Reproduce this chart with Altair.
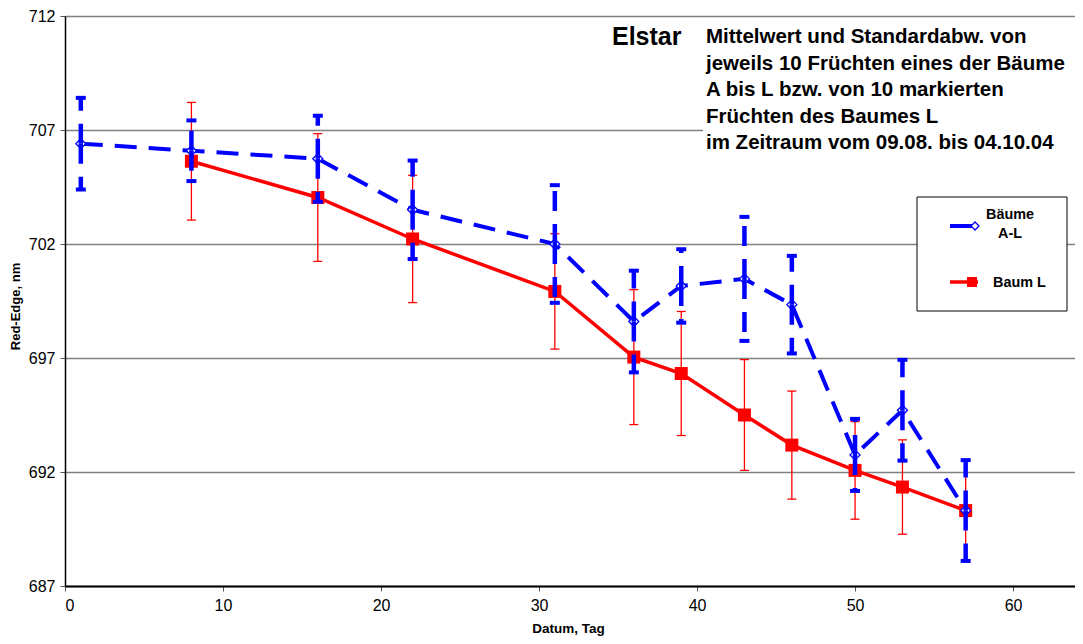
import altair as alt
import pandas as pd

# ---- data ----
days_a = [1, 8, 16, 22, 31, 36, 39, 43, 46, 50, 53, 57]
mean_a = [706.40, 706.09, 705.74, 703.50, 702.00, 698.60, 700.16, 700.47, 699.34, 692.75, 694.71, 690.31]
sd_a = [2.01, 1.33, 1.89, 2.16, 2.58, 2.23, 1.61, 2.72, 2.14, 1.58, 2.21, 2.21]

days_l = [8, 16, 22, 31, 36, 39, 43, 46, 50, 53, 57]
mean_l = [705.63, 704.04, 702.22, 699.92, 697.04, 696.32, 694.50, 693.18, 692.07, 691.34, 690.31]
sd_l = [2.58, 2.80, 2.79, 2.53, 2.96, 2.72, 2.43, 2.37, 2.14, 2.07, 2.21]

y_ticks = [687, 692, 697, 702, 707, 712]
x_ticks = [0, 10, 20, 30, 40, 50, 60]

legend_a = ["Bäume", "A-L"]
legend_l = "Baum L"
title_lines = [
    "Mittelwert und Standardabw. von",
    "jeweils 10 Früchten eines der Bäume",
    "A bis L bzw. von 10 markierten",
    "Früchten des Baumes L",
    "im Zeitraum vom 09.08. bis 04.10.04",
]
variety = "Elstar"

df_a = pd.DataFrame({"day": days_a, "mean": mean_a, "sd": sd_a})
df_a["hi"] = df_a["mean"] + df_a["sd"]
df_a["lo"] = df_a["mean"] - df_a["sd"]
df_l = pd.DataFrame({"day": days_l, "mean": mean_l, "sd": sd_l})
df_l["hi"] = df_l["mean"] + df_l["sd"]
df_l["lo"] = df_l["mean"] - df_l["sd"]
one = pd.DataFrame({"k": [0]})

W, H = 1010, 570
X_MAX = 63.92
TOP = 8  # plot area top (svg coords); image y = TOP + 8
TICK_FONT = "Liberation Sans Narrow, Arial Narrow, Liberation Sans"
BOLD_FONT = "Liberation Sans, Arial"
BLUE = "#0000FF"
RED = "#FF0000"

xs = alt.Scale(domain=[0, X_MAX], nice=False, zero=False)
ys = alt.Scale(domain=[687, 712], nice=False, zero=False)

x_axis = alt.Axis(values=x_ticks, title="Datum, Tag", grid=False,
                  domainColor="black", domainWidth=2, tickColor="#555", tickSize=5,
                  labelFont=TICK_FONT, labelFontSize=16, labelPadding=6, labelColor="black",
                  titleFont=BOLD_FONT, titleFontWeight="bold", titleFontSize=13.5,
                  titleColor="black", titleX=503, titleY=42, titleAlign="center",
                  titleBaseline="middle")
y_axis = alt.Axis(values=y_ticks, title="Red-Edge, nm", grid=True,
                  gridColor="#808080", gridWidth=1.3,
                  domainColor="black", domainWidth=1.5, tickColor="#555", tickSize=5,
                  labelFont=TICK_FONT, labelFontSize=16, labelPadding=5, labelColor="black",
                  titleFont=BOLD_FONT, titleFontWeight="bold", titleFontSize=13,
                  titleColor="black", titleX=-50, titleY=290, titleAngle=-90,
                  titleAlign="center", titleBaseline="middle")


def X():
    return alt.X("day:Q", scale=xs, axis=x_axis)


def Y(field):
    return alt.Y(f"{field}:Q", scale=ys, axis=y_axis)


deco = alt.Chart(one)

# white box behind the description text (hides gridline)
text_box = deco.mark_rect(fill="white").encode(
    x=alt.value(638), x2=alt.value(W), y=alt.value(5), y2=alt.value(144))

# ---- Baum L (red) ----
red_err = alt.Chart(df_l).mark_rule(color=RED, strokeWidth=1.3).encode(
    x=X(), y=Y("lo"), y2="hi:Q")
red_cap_hi = alt.Chart(df_l).mark_tick(color=RED, orient="horizontal", size=9, thickness=1.3,
                                       opacity=1).encode(x=X(), y=Y("hi"))
red_cap_lo = alt.Chart(df_l).mark_tick(color=RED, orient="horizontal", size=9, thickness=1.3,
                                       opacity=1).encode(x=X(), y=Y("lo"))
red_line = alt.Chart(df_l).mark_line(color=RED, strokeWidth=3.5).encode(
    x=X(), y=Y("mean"))
red_pts = alt.Chart(df_l).mark_square(color=RED, size=169, opacity=1).encode(
    x=X(), y=Y("mean"))

# ---- Bäume A-L (blue) ----
blue_line = alt.Chart(df_a).mark_line(color=BLUE, strokeWidth=4, strokeDash=[22, 12]).encode(
    x=X(), y=Y("mean"))
blue_pts = alt.Chart(df_a).mark_point(shape="diamond", size=100, color=BLUE, fill="white",
                                      filled=False, strokeWidth=1.3, opacity=1).encode(
    x=X(), y=Y("mean"))
blue_err_up = alt.Chart(df_a).mark_rule(color=BLUE, strokeWidth=4.5, strokeDash=[20, 13]).encode(
    x=X(), y=Y("mean"), y2="hi:Q")
blue_err_dn = alt.Chart(df_a).mark_rule(color=BLUE, strokeWidth=4.5, strokeDash=[20, 13]).encode(
    x=X(), y=Y("mean"), y2="lo:Q")
blue_cap_hi = alt.Chart(df_a).mark_tick(color=BLUE, orient="horizontal", size=10, thickness=4,
                                        opacity=1).encode(x=X(), y=Y("hi"))
blue_cap_lo = alt.Chart(df_a).mark_tick(color=BLUE, orient="horizontal", size=10, thickness=4,
                                        opacity=1).encode(x=X(), y=Y("lo"))

# ---- texts ----
elstar = deco.mark_text(text=variety, font=BOLD_FONT, fontWeight="bold", fontSize=25,
                        align="left", baseline="alphabetic", color="black").encode(
    x=alt.value(547), y=alt.value(28.5))
desc = deco.mark_text(text=title_lines, font=BOLD_FONT, fontWeight="bold", fontSize=20.5,
                      lineHeight=26.6, align="left", baseline="alphabetic",
                      color="black").encode(
    x=alt.value(641), y=alt.value(27))

# ---- legend ----
leg_box = deco.mark_rect(fill="white", stroke="black", strokeWidth=1).encode(
    x=alt.value(852), x2=alt.value(1002), y=alt.value(181), y2=alt.value(295))
leg_blue_line = deco.mark_rule(color=BLUE, strokeWidth=4).encode(
    x=alt.value(885), x2=alt.value(907), y=alt.value(210))
leg_blue_pt = deco.mark_point(shape="diamond", size=64, color=BLUE, fill="white",
                              filled=False, strokeWidth=1.3, opacity=1).encode(
    x=alt.value(910), y=alt.value(210))
leg_red_line = deco.mark_rule(color=RED, strokeWidth=3.5).encode(
    x=alt.value(885), x2=alt.value(913), y=alt.value(266))
leg_red_pt = deco.mark_square(color=RED, size=100, opacity=1).encode(
    x=alt.value(907), y=alt.value(266))
leg_txt_a1 = deco.mark_text(text=legend_a[0], font=BOLD_FONT, fontWeight="bold",
                            fontSize=14.4, align="center", baseline="alphabetic",
                            color="black").encode(x=alt.value(945), y=alt.value(203))
leg_txt_a2 = deco.mark_text(text=legend_a[1], font=BOLD_FONT, fontWeight="bold",
                            fontSize=14.4, align="center", baseline="alphabetic",
                            color="black").encode(x=alt.value(945), y=alt.value(222))
leg_txt_l = deco.mark_text(text=legend_l, font=BOLD_FONT, fontWeight="bold",
                           fontSize=14.4, align="left", baseline="alphabetic",
                           color="black").encode(x=alt.value(928), y=alt.value(271))

chart = alt.layer(
    red_err, text_box, red_cap_hi, red_cap_lo, red_line, red_pts,
    blue_line, blue_pts, blue_err_up, blue_err_dn, blue_cap_hi, blue_cap_lo,
    elstar, desc,
    leg_box, leg_blue_line, leg_blue_pt, leg_red_line, leg_red_pt,
    leg_txt_a1, leg_txt_a2, leg_txt_l,
).properties(
    width=W, height=H,
    autosize=alt.AutoSizeParams(type="none"),
    padding={"left": 57, "top": TOP, "right": 0, "bottom": 50},
    background="white",
).configure_view(stroke=None)

chart.save("out.html", embed_options={"renderer": "svg", "actions": False})
